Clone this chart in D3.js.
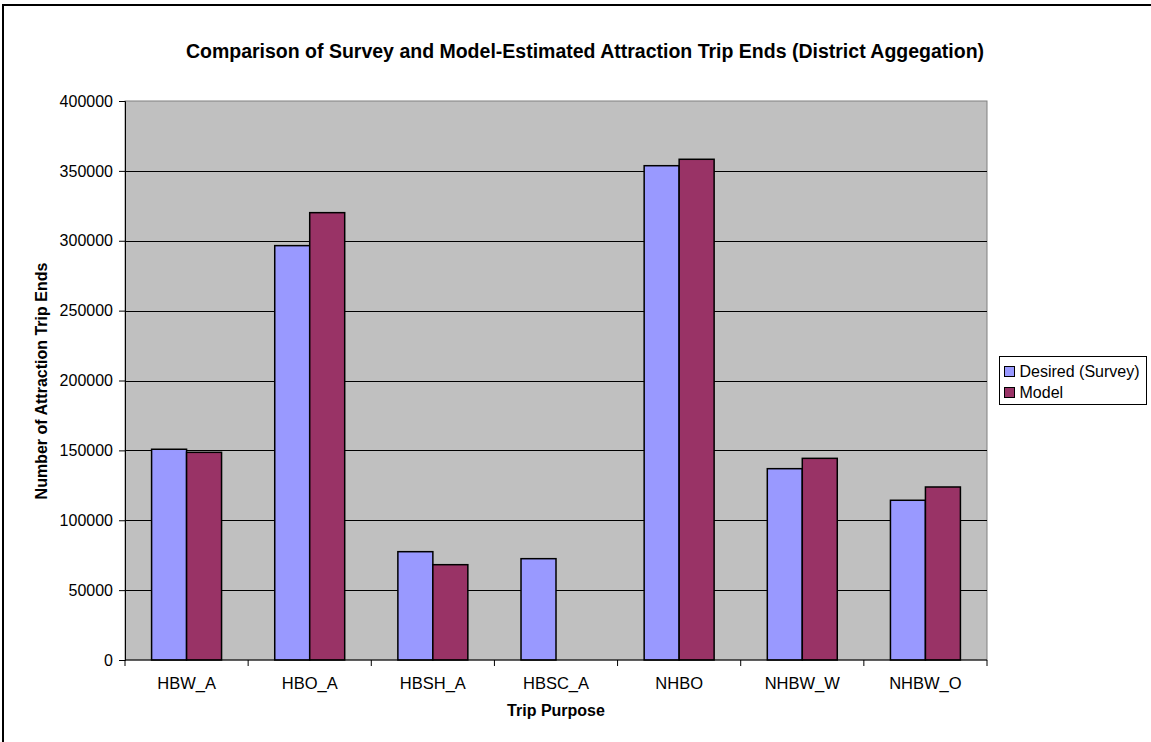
<!DOCTYPE html>
<html>
<head>
<meta charset="utf-8">
<script src="https://cdn.jsdelivr.net/npm/d3@7"></script>
<style>
  body { margin: 0; background: #fff; }
  svg { display: block; font-family: "Liberation Sans", Arial, sans-serif; }
</style>
</head>
<body>
<div id="viz"></div>
<script>
// values
var categories = ['HBW_A', 'HBO_A', 'HBSH_A', 'HBSC_A', 'NHBO', 'NHBW_W', 'NHBW_O'];
var seriesNames = ['Desired (Survey)', 'Model'];
var surveyValues = [150800, 296500, 77500, 72500, 353700, 136900, 114300];
var modelValues = [148600, 320100, 68200, null, 358300, 144300, 123800];
var yTicks = [0, 50000, 100000, 150000, 200000, 250000, 300000, 350000, 400000];
var colors = ['#9999FF', '#993366'];

var width = 1151, height = 742;
var margin = {top: 101, left: 125, right: 164, bottom: 82};
var w = width - margin.left - margin.right,
    h = height - margin.top - margin.bottom;

var svg = d3.select('#viz').append('svg')
    .attr('width', width)
    .attr('height', height);

// outer chart frame (only left/top visible)
svg.append('rect')
    .attr('x', 3).attr('y', 5)
    .attr('width', 1300).attr('height', 900)
    .attr('fill', 'none')
    .attr('stroke', '#000')
    .attr('stroke-width', 2);

svg.append('text')
    .attr('x', 585).attr('y', 58)
    .attr('text-anchor', 'middle')
    .style('font-size', '19.5px')
    .style('font-weight', 'bold')
    .text('Comparison of Survey and Model-Estimated Attraction Trip Ends (District Aggegation)');

var g = svg.append('g').attr('transform', 'translate(' + margin.left + ',' + margin.top + ')');

var x0 = d3.scaleBand().domain(categories).range([0, w]);
var x1 = d3.scaleBand().domain(seriesNames).range([0, x0.bandwidth()]).paddingOuter(0.76);
var y = d3.scaleLinear().domain([0, 400000]).range([h, 0]);

g.append('rect')
    .attr('width', w).attr('height', h)
    .attr('fill', '#C0C0C0')
    .attr('stroke', '#808080')
    .attr('stroke-width', 1);

g.selectAll('.grid')
    .data(yTicks.slice(1, -1))
    .enter().append('line')
    .attr('x1', 0).attr('x2', w)
    .attr('y1', function (d) { return Math.round(y(d)) + 0.5; })
    .attr('y2', function (d) { return Math.round(y(d)) + 0.5; })
    .attr('stroke', '#000')
    .attr('stroke-width', 1);

var rows = [];
categories.forEach(function (c, i) {
    rows.push({cat: c, s: 0, v: surveyValues[i]});
    rows.push({cat: c, s: 1, v: modelValues[i]});
});

g.selectAll('.bar')
    .data(rows.filter(function (d) { return d.v != null; }))
    .enter().append('rect')
    .attr('x', function (d) { return x0(d.cat) + x1(seriesNames[d.s]); })
    .attr('y', function (d) { return y(d.v); })
    .attr('width', x1.bandwidth())
    .attr('height', function (d) { return h - y(d.v); })
    .attr('fill', function (d) { return colors[d.s]; })
    .attr('stroke', '#000')
    .attr('stroke-width', 1.5);

// y axis
var yAxis = g.append('g')
    .call(d3.axisLeft(y).tickValues(yTicks).tickFormat(d3.format('d')).tickSizeOuter(0).tickSize(6));
yAxis.select('.domain').attr('stroke', '#000');
yAxis.selectAll('text').style('font-size', '16px').attr('fill', '#000').attr('x', -12);

// x axis with ticks at category boundaries
var xAxis = g.append('g').attr('transform', 'translate(0,' + h + ')');
xAxis.append('line').attr('x1', 0).attr('x2', w).attr('stroke', '#000');
xAxis.selectAll('.xt')
    .data(categories.concat(['end']))
    .enter().append('line')
    .attr('x1', function (d, i) { return i < categories.length ? x0(d) : w; })
    .attr('x2', function (d, i) { return i < categories.length ? x0(d) : w; })
    .attr('y1', 0).attr('y2', 6)
    .attr('stroke', '#000');
xAxis.selectAll('.xl')
    .data(categories)
    .enter().append('text')
    .attr('x', function (d) { return x0(d) + x0.bandwidth() / 2; })
    .attr('y', 29)
    .attr('text-anchor', 'middle')
    .style('font-size', '16.5px')
    .text(function (d) { return d; });

svg.append('text')
    .attr('x', 556).attr('y', 716)
    .attr('text-anchor', 'middle')
    .style('font-size', '16px')
    .style('font-weight', 'bold')
    .text('Trip Purpose');

svg.append('text')
    .attr('transform', 'translate(47,381) rotate(-90)')
    .attr('text-anchor', 'middle')
    .style('font-size', '16px')
    .style('font-weight', 'bold')
    .text('Number of Attraction Trip Ends');

// legend
var legend = svg.append('g').attr('transform', 'translate(999.5,356.5)');
legend.append('rect')
    .attr('width', 147).attr('height', 48)
    .attr('fill', '#fff')
    .attr('stroke', '#000')
    .attr('stroke-width', 1);
var items = legend.selectAll('.item')
    .data(seriesNames)
    .enter().append('g')
    .attr('transform', function (d, i) { return 'translate(5,' + (15 + i * 21) + ')'; });
items.append('rect')
    .attr('x', 0).attr('y', -5)
    .attr('width', 10).attr('height', 10)
    .attr('fill', function (d, i) { return colors[i]; })
    .attr('stroke', '#000');
items.append('text')
    .attr('x', 15).attr('y', 5.5)
    .style('font-size', '16px')
    .text(function (d) { return d; });
</script>
</body>
</html>
